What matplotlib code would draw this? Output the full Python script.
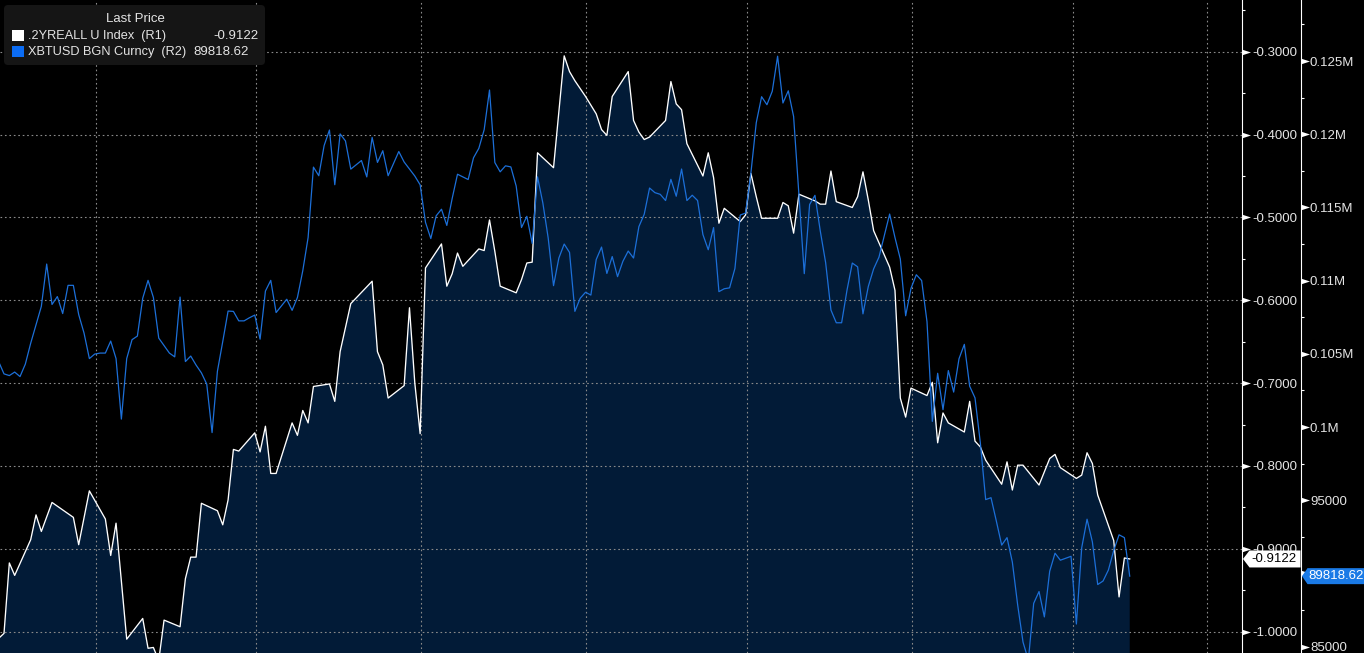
import numpy as np
import matplotlib
matplotlib.use('Agg')
import matplotlib.pyplot as plt
from matplotlib.path import Path
from matplotlib.patches import Polygon, FancyBboxPatch, Rectangle
from matplotlib import transforms
from matplotlib.ticker import FuncFormatter

plt.rcParams['font.family'] = ['Liberation Sans', 'DejaVu Sans']

# x = calendar day offset, day 0 = 14 May 2025
days_r1 = [-1, 0, 1, 2, 5, 6, 7, 9, 13, 14, 16, 19, 20, 21, 23, 26, 27, 28, 29, 30,
           33, 34, 35, 36, 37, 40, 41, 42, 43, 44, 47, 48, 49, 50, 51, 54, 55, 56, 57, 58,
           61, 62, 63, 65, 69, 70, 71, 72, 75, 76, 77, 78, 79, 82, 83, 84, 85, 86, 89, 90,
           91, 92, 93, 96, 97, 98, 99, 100, 103, 105, 106, 107, 109, 111, 112, 113, 114, 117, 118, 119,
           120, 121, 124, 125, 126, 127, 128, 131, 132, 133, 134, 135, 138, 139, 140, 141, 142, 145, 146, 147,
           148, 149, 152, 153, 154, 155, 156, 159, 160, 161, 162, 163, 166, 167, 168, 169, 170, 173, 174, 175,
           176, 177, 180, 181, 182, 183, 184, 187, 188, 189, 190, 191, 194, 196, 197, 198, 201, 202, 203, 204,
           205, 208, 209, 210, 211]
real_yield = [-1.008, -1.002, -0.917, -0.932, -0.889, -0.859, -0.879, -0.844, -0.862, -0.895,
              -0.830, -0.864, -0.908, -0.869, -1.009, -0.984, -1.020, -1.019, -1.035, -0.986,
              -0.994, -0.936, -0.910, -0.910, -0.845, -0.854, -0.871, -0.841, -0.780, -0.782,
              -0.760, -0.783, -0.752, -0.809, -0.809, -0.748, -0.763, -0.733, -0.748, -0.704,
              -0.701, -0.722, -0.662, -0.604, -0.577, -0.662, -0.678, -0.718, -0.703, -0.609,
              -0.700, -0.761, -0.561, -0.532, -0.583, -0.568, -0.543, -0.559, -0.538, -0.540,
              -0.503, -0.541, -0.583, -0.591, -0.575, -0.555, -0.554, -0.422, -0.440, -0.305,
              -0.324, -0.335, -0.354, -0.375, -0.394, -0.401, -0.354, -0.324, -0.383, -0.397,
              -0.406, -0.403, -0.383, -0.336, -0.363, -0.370, -0.411, -0.450, -0.422, -0.452,
              -0.507, -0.489, -0.505, -0.497, -0.447, -0.475, -0.501, -0.501, -0.482, -0.486,
              -0.519, -0.472, -0.480, -0.484, -0.484, -0.444, -0.481, -0.488, -0.475, -0.445,
              -0.479, -0.516, -0.560, -0.588, -0.718, -0.741, -0.706, -0.715, -0.699, -0.772,
              -0.736, -0.748, -0.759, -0.722, -0.770, -0.777, -0.793, -0.822, -0.795, -0.829,
              -0.799, -0.799, -0.823, -0.791, -0.786, -0.802, -0.815, -0.811, -0.784, -0.797,
              -0.835, -0.890, -0.958, -0.911, -0.9122]

days_r2 = [-1, 0, 1, 2, 3, 4, 5, 7, 8, 9, 10, 11, 12, 13, 14, 15, 16, 17, 18, 19,
           20, 21, 22, 23, 24, 25, 26, 27, 28, 29, 31, 32, 33, 34, 35, 36, 37, 38, 39, 40,
           41, 42, 43, 44, 45, 46, 47, 48, 49, 50, 51, 53, 54, 55, 56, 57, 58, 59, 60, 61,
           62, 63, 64, 65, 67, 68, 69, 70, 71, 72, 74, 75, 77, 78, 79, 80, 81, 82, 83, 84,
           85, 87, 88, 89, 90, 91, 92, 93, 94, 95, 96, 97, 98, 99, 100, 101, 102, 103, 104, 105,
           106, 107, 108, 109, 110, 111, 112, 113, 114, 115, 116, 117, 118, 119, 120, 121, 122, 123, 124, 125,
           126, 127, 128, 129, 130, 131, 132, 133, 134, 135, 136, 137, 138, 139, 140, 141, 142, 143, 144, 145,
           146, 147, 148, 149, 150, 151, 152, 153, 154, 155, 156, 157, 158, 159, 160, 161, 162, 163, 164, 165,
           166, 167, 168, 169, 170, 171, 172, 173, 174, 175, 176, 177, 178, 179, 180, 181, 182, 183, 184, 185,
           186, 187, 188, 189, 190, 191, 192, 193, 194, 195, 196, 197, 198, 199, 200, 201, 202, 203, 204, 205,
           206, 207, 208, 209, 210, 211]
btc = [104466, 103633, 103516, 103756, 103448, 104302, 105723, 108244, 111133, 108373,
       108913, 107752, 109678, 109678, 107683, 106420, 104678, 104985, 105053, 105053,
       105873, 104678, 100545, 104678, 105969, 106215, 108797, 110020, 108851, 106078,
       105053, 104794, 108879, 104473, 104849, 104234, 103701, 102936, 99623, 103810,
       105839, 107922, 107900, 107253, 107253, 107465, 107649, 106003, 109289, 110020,
       107820, 108729, 107970, 108851, 110675, 112943, 117752, 117165, 119221, 120287,
       116550, 120020, 119542, 117616, 118203, 117083, 119781, 118073, 118873, 117165,
       118818, 118101, 117144, 116543, 113982, 112875, 114426, 114877, 113770, 115607,
       117267, 116905, 118388, 119036, 120307, 123019, 118067, 117431, 117841, 117766,
       116461, 113626, 114392, 112540, 117090, 115300, 112909, 109657, 111543, 112499,
       111925, 107902, 108797, 109207, 109015, 111440, 112294, 110491, 111645, 110272,
       111318, 112021, 111543, 113688, 114535, 116325, 116010, 115894, 115471, 116919,
       115764, 117623, 115471, 115833, 115471, 113148, 112110, 113626, 109248, 109446,
       109507, 110833, 114480, 114617, 117370, 120785, 122561, 122015, 122937, 125328,
       122131, 122964, 121209, 115874, 110477, 115198, 115826, 113387, 111236, 107991,
       107123, 107123, 109336, 111201, 110942, 107731, 109603, 110805, 111604, 113080,
       114549, 112943, 111475, 107601, 109473, 110402, 110006, 107200, 100388, 103673,
       101187, 103858, 102389, 104664, 105648, 102792, 101993, 98919, 95046, 95176,
       93577, 91938, 92450, 90777, 87839, 85312, 84082, 87962, 88768, 87033,
       90155, 91385, 90907, 91036, 91173, 86548, 91760, 93707, 92157, 89246,
       89486, 90237, 91569, 92641, 92450, 89818.62]

month_lines = [17.25, 47.25, 78.2, 109.1, 139.3, 170.1, 200.3, 225.4]

r1_ticks = [-1.0, -0.9, -0.8, -0.7, -0.6, -0.5, -0.4, -0.3]
r1_minor = [-0.95, -0.85, -0.75, -0.65, -0.55, -0.45, -0.35, -0.25]
r2_ticks = [85000, 90000, 95000, 100000, 105000, 110000, 115000, 120000, 125000]
r2_minor = [87500, 92500, 97500, 102500, 107500, 112500, 117500, 122500, 127500]

name_r1 = '.2YREALL U Index  (R1)'
name_r2 = 'XBTUSD BGN Curncy  (R2)'

W, H = 1364, 653
TXT = '#e4e4e4'
FILL = '#021b37'
BLUE = '#1c6fd8'
FS = 9.5

fig = plt.figure(figsize=(W / 100, H / 100), dpi=100, facecolor='black')
ax = fig.add_axes([0, 0, 1241.5 / W, 1])
ax.set_facecolor('black')
ax.set_xlim(-0.75, 231.95)
ax.set_ylim(-1.0257, -0.2376)
ax2 = ax.twinx()
ax2.set_ylim(84570, 129166)

ax.fill_between(days_r1, real_yield, -1.2, color=FILL, lw=0, zorder=1)
ax.plot(days_r1, real_yield, color='white', lw=0.95, zorder=3)
ax2.plot(days_r2, btc, color=BLUE, lw=0.9, zorder=3)

ax.set_xticks(month_lines)
ax.tick_params(axis='x', length=0, labelbottom=False)
ax.set_yticks(r1_ticks)
ax.set_yticks(r1_minor, minor=True)
ax.grid(True, which='major', color='#8a8a8a', lw=0.8, ls=(0, (1.5, 2.5)))
ax.set_axisbelow('line')
for a in (ax, ax2):
    for s in ['left', 'top', 'bottom']:
        a.spines[s].set_visible(False)
    a.spines['right'].set_color('white')
    a.spines['right'].set_linewidth(0.8)
    a.yaxis.set_ticks_position('right')
    a.tick_params(axis='y', which='minor', length=2.5, width=0.8, color='white', direction='out')
ax.tick_params(axis='y', which='major', length=0, pad=8, labelsize=FS, labelcolor=TXT)
ax.yaxis.set_major_formatter(FuncFormatter(lambda v, p: f'{v:.4f}'))

# second scale, its spine sits right of the first one
ax2.spines['right'].set_position(('outward', 42.6))
ax2.set_yticks(r2_ticks)
ax2.set_yticks(r2_minor, minor=True)
ax2.tick_params(axis='y', which='major', length=0, pad=6.7, labelsize=FS, labelcolor=TXT)


def fmt_r2(v, p):
    if v >= 100000:
        return f'{v / 1e6:g}M'
    return f'{v:.0f}'


ax2.yaxis.set_major_formatter(FuncFormatter(fmt_r2))

# triangle markers on the spines instead of major tick lines
tri = Path([(-1, -0.65), (1, 0), (-1, 0.65), (-1, -0.65)],
           [Path.MOVETO, Path.LINETO, Path.LINETO, Path.CLOSEPOLY])
t1 = transforms.offset_copy(ax.get_yaxis_transform(), fig=fig, x=4.5, y=0, units='dots')
ax.plot([1] * len(r1_ticks), r1_ticks, ls='none', marker=tri, ms=6.5, color='white',
        mec='none', clip_on=False, transform=t1, zorder=5)
t2 = transforms.offset_copy(ax2.get_yaxis_transform(), fig=fig, x=59.2 + 4.5, y=0, units='dots')
ax2.plot([1] * len(r2_ticks), r2_ticks, ls='none', marker=tri, ms=6.5, color='white',
         mec='none', clip_on=False, transform=t2, zorder=5)

# last value tags
ident = transforms.IdentityTransform()
xs = ax.bbox.x1
y1 = ax.transData.transform((0, real_yield[-1]))[1]
y2 = ax2.transData.transform((0, btc[-1]))[1]
fig.add_artist(Polygon([(xs + 1.5, y1), (xs + 8, y1 + 8.5), (xs + 59, y1 + 8.5),
                        (xs + 59, y1 - 8.5), (xs + 8, y1 - 8.5)],
                       closed=True, fc='white', ec='none', transform=ident, zorder=4))
fig.text(xs + 32, y1, f'{real_yield[-1]:.4f}', transform=ident, ha='center', va='center',
         fontsize=FS, color='black', zorder=5)
fig.add_artist(Polygon([(xs + 60.5, y2), (xs + 66, y2 + 8), (W, y2 + 8),
                        (W, y2 - 8), (xs + 66, y2 - 8)],
                       closed=True, fc='#1a7ae6', ec='none', transform=ident, zorder=4))
fig.text((xs + 66 + W) / 2, y2, f'{btc[-1]:.2f}', transform=ident, ha='center', va='center',
         fontsize=FS, color='white', zorder=5)

# legend box
fig.add_artist(FancyBboxPatch((4, H - 65), 261, 60, boxstyle='round,pad=0,rounding_size=4',
                              fc='#151515', ec='none', transform=ident, zorder=4))
fig.text(135, H - 19, 'Last Price', transform=ident, ha='center', va='center',
         fontsize=FS, color=TXT, zorder=5)
fig.add_artist(Rectangle((12.3, H - 41), 11.7, 10.7, fc='white', ec='none',
                         transform=ident, zorder=5))
fig.text(28, H - 36, name_r1, transform=ident, ha='left', va='center',
         fontsize=9.2, color=TXT, zorder=5)
fig.text(258, H - 36, f'{real_yield[-1]:.4f}', transform=ident, ha='right', va='center',
         fontsize=FS, color=TXT, zorder=5)
fig.add_artist(Rectangle((12.3, H - 57), 11.7, 11, fc='#0b6cf4', ec='none',
                         transform=ident, zorder=5))
fig.text(28, H - 52, name_r2, transform=ident, ha='left', va='center',
         fontsize=9.2, color=TXT, zorder=5)
fig.text(193, H - 52, f'{btc[-1]:.2f}', transform=ident, ha='left', va='center',
         fontsize=FS, color=TXT, zorder=5)

fig.savefig('out.png', dpi=100, facecolor='black')
